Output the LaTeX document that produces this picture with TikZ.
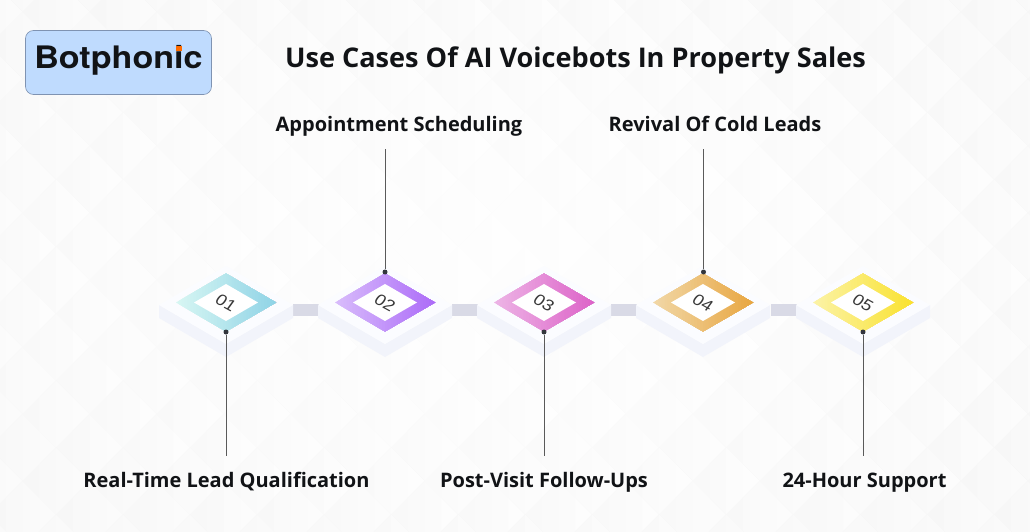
\documentclass[tikz,border=0pt]{standalone}
\usepackage{fontspec}
\setmainfont{Open Sans}
\newfontfamily\logofont[FakeStretch=1.1]{TeX Gyre Heros}
\newfontfamily\numfont{Liberation Sans}
\definecolor{bgc}{HTML}{FDFDFD}
\definecolor{basetop}{HTML}{FBFCFF}
\definecolor{baseside}{HTML}{F2F4FB}
\definecolor{barc}{HTML}{D9DAE6}
\definecolor{linec}{HTML}{5A5A5A}
\definecolor{dotc}{HTML}{33363D}
\definecolor{logobg}{HTML}{BFDBFE}
\definecolor{logoedge}{HTML}{7F93B2}
\definecolor{ink}{HTML}{111316}
\definecolor{aL}{HTML}{D8F7F3}\definecolor{aR}{HTML}{8FD3E6}
\definecolor{bL}{HTML}{D9BDFB}\definecolor{bR}{HTML}{AC6BF8}
\definecolor{cL}{HTML}{EDB5E6}\definecolor{cR}{HTML}{DD62C8}
\definecolor{dL}{HTML}{F1D8A8}\definecolor{dR}{HTML}{E8A640}
\definecolor{eL}{HTML}{FBF3A8}\definecolor{eR}{HTML}{FAE22E}
\tikzset{
  x=1pt,y=-1pt,
  label text/.style={font=\fontsize{20}{24}\selectfont\bfseries,text=ink,inner sep=0pt,anchor=base},
  title text/.style={font=\fontsize{27.1}{30}\selectfont\bfseries,text=ink,inner sep=0pt,anchor=base},
  lead/.style={draw=linec,line width=0.7pt},
  pin/.style={circle,fill=dotc,minimum size=5pt,inner sep=0pt},
  bar/.style={fill=barc,draw=none},
}
% gradient diamond built from overlapping solid slices: cx, cy, half width, half height, left colour, right colour, last slice index
\newcommand{\gradDia}[7]{%
  \foreach \k in {0,...,#7}{%
    \pgfmathsetmacro{\tt}{\k/(#7+1)}%
    \pgfmathsetmacro{\px}{int(100*(\tt+0.5/(#7+1)))}%
    \pgfmathsetmacro{\xx}{#1-#3+2*#3*\tt}%
    \pgfmathsetmacro{\hh}{#4*(1-abs(\xx-#1)/#3)}%
    \pgfmathparse{\xx<#1 ? 1 : 0}%
    \ifnum\pgfmathresult=1
      \fill[color=#6!\px!#5] (\xx,#2-\hh) -- (#1,#2-#4) -- (#1+#3,#2) -- (#1,#2+#4) -- (\xx,#2+\hh) -- cycle;
    \else
      \fill[color=#6!\px!#5] (\xx,#2-\hh) -- (#1+#3,#2) -- (\xx,#2+\hh) -- cycle;
    \fi
  }%
}
\newcommand{\station}[5]{% x, left colour, right colour, number, name
  \fill[baseside] (#1-67,305) -- (#1,344) -- (#1+67,305) -- (#1+67,318) -- (#1,357) -- (#1-67,318) -- cycle;
  \fill[basetop] (#1-67,305) -- (#1,266) -- (#1+67,305) -- (#1,344) -- cycle;
  \gradDia{#1}{302.5}{50}{29}{#2}{#3}{33}
  \fill[white] (#1-32,302.5) -- (#1,284) -- (#1+32,302.5) -- (#1,321) -- cycle;
  \begin{scope}[shift={(#1,302.5)},cm={1.02,-0.56,0.62,0.85,(0,0)}]
    \node[transform shape,inner sep=0pt,text=black!78,font=\numfont\fontsize{15.5}{15.5}\selectfont] (#5) at (0,0) {#4};
  \end{scope}
}
\begin{document}
\begin{tikzpicture}
\useasboundingbox (0,0) rectangle (1030,532);
\fill[bgc] (0,0) rectangle (1030,532);
\begin{scope}
\clip (0,0) rectangle (1030,532);
\foreach \i in {0,...,16}{\foreach \j in {0,...,19}{
  \pgfmathsetmacro{\cx}{mod(\j,2)==0 ? -11+\i*67 : 22.5+\i*67}
  \pgfmathsetmacro{\cy}{-55+\j*33.5}
  \pgfmathsetmacro{\dd}{min(1,sqrt(((\cx-515)/515)^2+((\cy-266)/266)^2)/1.2)}
  \pgfmathsetmacro{\pl}{0.6+2.6*\dd}
  \pgfmathsetmacro{\pr}{max(\pl-2.0,0.4)}
  \colorlet{tl}{black!\pl!white}
  \colorlet{tr}{black!\pr!white}
  \gradDia{\cx}{\cy}{33.5}{33.5}{tl}{tr}{3}
}}
\end{scope}
% logo
\node[draw=logoedge,fill=logobg,rounded corners=8pt,line width=0.6pt,minimum width=186pt,minimum height=64pt,inner sep=0pt] (logo) at (118.5,62.5) {};
\node[font=\logofont\fontsize{31}{31}\selectfont\bfseries,text=ink,inner sep=0pt,anchor=base] (logotext) at (118.5,69) {Botphonic};
\fill[orange!85!red] (176,45.7) rectangle (181.5,51);
% title
\node[title text] (title) at (575.5,68) {Use Cases Of AI Voicebots In Property Sales};
% bars
\fill[bar] (293,304) rectangle (319,316);
\fill[bar] (452,304) rectangle (478,316);
\fill[bar] (611,304) rectangle (637,316);
\fill[bar] (771,304) rectangle (797,316);
% stations
\station{226}{aL}{aR}{01}{s1}
\station{385}{bL}{bR}{02}{s2}
\station{544}{cL}{cR}{03}{s3}
\station{703}{dL}{dR}{04}{s4}
\station{863}{eL}{eR}{05}{s5}
% labels
\node[label text] (l1) at (226.5,487) {Real-Time Lead Qualification};
\node[label text] (l2) at (399,131.8) {Appointment Scheduling};
\node[label text] (l3) at (544,487) {Post-Visit Follow-Ups};
\node[label text] (l4) at (715,131.8) {Revival Of Cold Leads};
\node[label text] (l5) at (864.5,487) {24-Hour Support};
% pins and leaders
\node[pin] (p1) at (226,332) {};
\node[pin] (p2) at (385,272) {};
\node[pin] (p3) at (544,332) {};
\node[pin] (p4) at (703.5,272) {};
\node[pin] (p5) at (863,332) {};
\coordinate (e1) at (226,456);
\coordinate (e2) at (385,149);
\coordinate (e3) at (544,456);
\coordinate (e4) at (703.5,149);
\coordinate (e5) at (863,456);
\draw[lead] (p1) -- (e1);
\draw[lead] (p2) -- (e2);
\draw[lead] (p3) -- (e3);
\draw[lead] (p4) -- (e4);
\draw[lead] (p5) -- (e5);
\end{tikzpicture}
\end{document}
